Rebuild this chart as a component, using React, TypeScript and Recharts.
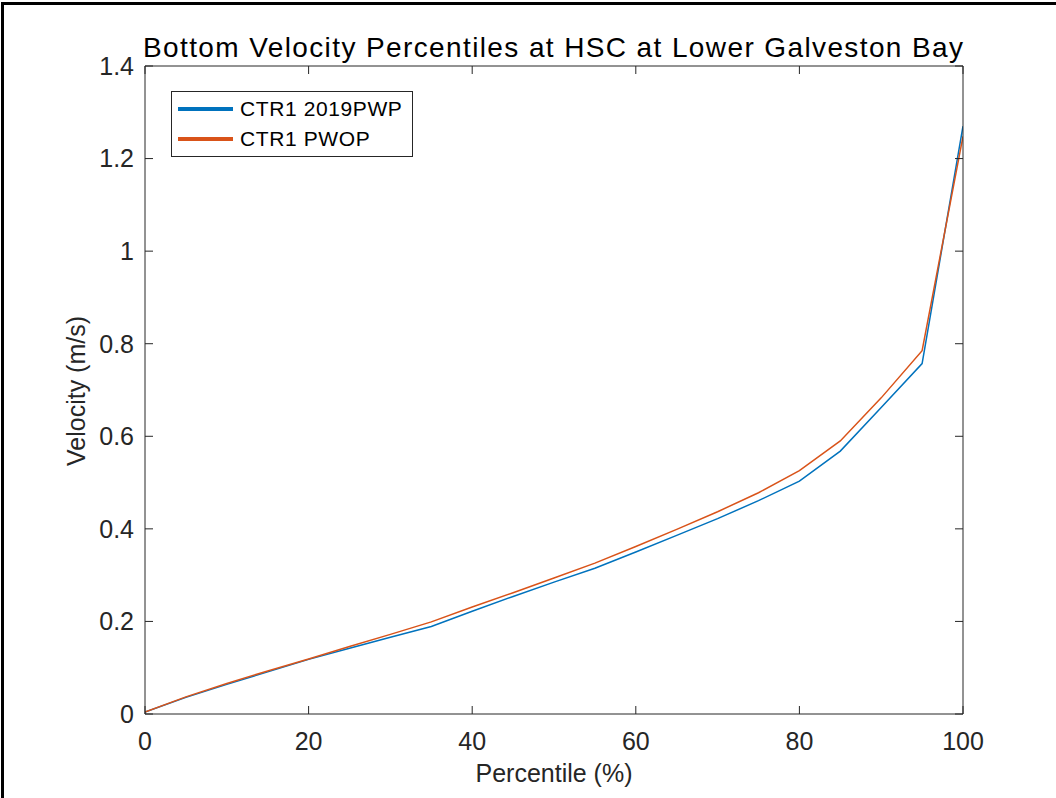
import React from 'react'
import { LineChart, Line, XAxis, YAxis, Legend } from 'recharts'

// percentile (%) on the x axis
const percentiles = [0, 5, 10, 15, 20, 25, 30, 35, 40, 45, 50, 55, 60, 65, 70, 75, 80, 85, 90, 95, 100]

// bottom velocity (m/s)
const ctr1_2019pwp = [
  0.004, 0.036, 0.064, 0.091, 0.118, 0.142, 0.166, 0.189, 0.222, 0.254, 0.285,
  0.315, 0.35, 0.386, 0.422, 0.461, 0.503, 0.568, 0.662, 0.757, 1.27,
]
const ctr1_pwop = [
  0.004, 0.037, 0.066, 0.093, 0.119, 0.146, 0.172, 0.199, 0.231, 0.262, 0.294,
  0.326, 0.362, 0.399, 0.437, 0.478, 0.526, 0.59, 0.683, 0.785, 1.248,
]

const xTicks = [0, 20, 40, 60, 80, 100]
const yTicks = [0, 0.2, 0.4, 0.6, 0.8, 1, 1.2, 1.4]
const seriesNames = ['CTR1 2019PWP', 'CTR1 PWOP']

const titleText = 'Bottom Velocity Percentiles at HSC at Lower Galveston Bay'
const xLabel = 'Percentile (%)'
const yLabel = 'Velocity (m/s)'

const data = percentiles.map((p, i) => ({ p, pwp: ctr1_2019pwp[i], pwop: ctr1_pwop[i] }))

const FONT = '"Liberation Sans", Arial, Helvetica, sans-serif'
const AXIS = '#262626'
const BLUE = '#0072BD'
const ORANGE = '#D95319'

const W = 1056
const H = 798

function LegendBox({ payload }: any) {
  return (
    <div
      style={{
        display: 'inline-block',
        border: `1px solid ${AXIS}`,
        background: '#fff',
        padding: '2px 10px 2px 6px',
        fontFamily: FONT,
      }}
    >
      {(payload || []).map((e: any) => (
        <div key={e.value} style={{ display: 'flex', alignItems: 'center', height: 30 }}>
          <span style={{ display: 'inline-block', width: 55, height: 4, background: e.color, marginRight: 7 }} />
          <span style={{ fontSize: 21, color: '#000', letterSpacing: 0.6, whiteSpace: 'nowrap' }}>{e.value}</span>
        </div>
      ))}
    </div>
  )
}

const noLabel = () => ''

export default function App() {
  return (
    <div style={{ position: 'absolute', left: 0, top: 0, width: W, height: H, background: '#fff', fontFamily: FONT }}>
      <LineChart width={W} height={H} data={data} margin={{ top: 66, right: 93, left: 85, bottom: 44 }}>
        {/* label axes */}
        <XAxis
          xAxisId="x"
          dataKey="p"
          type="number"
          domain={[0, 100]}
          allowDataOverflow
          ticks={xTicks}
          interval={0}
          height={40}
          axisLine={false}
          tickLine={false}
          tickSize={8}
          tickMargin={10}
          tick={{ fill: AXIS, fontSize: 25, fontFamily: FONT }}
        />
        <YAxis
          yAxisId="y"
          type="number"
          domain={[0, 1.4]}
          allowDataOverflow
          ticks={yTicks}
          interval={0}
          width={60}
          axisLine={false}
          tickLine={false}
          tickSize={8}
          tickMargin={3}
          tick={{ fill: AXIS, fontSize: 25, fontFamily: FONT }}
        />
        {/* box with inward ticks on all four sides */}
        <XAxis xAxisId="bm" dataKey="p" orientation="bottom" mirror height={1} type="number" domain={[0, 100]} allowDataOverflow
          ticks={xTicks} interval={0} tickSize={8} tickFormatter={noLabel} stroke={AXIS} />
        <XAxis xAxisId="tm" dataKey="p" orientation="top" mirror height={1} type="number" domain={[0, 100]} allowDataOverflow
          ticks={xTicks} interval={0} tickSize={8} tickFormatter={noLabel} stroke={AXIS} />
        <YAxis yAxisId="lm" orientation="left" mirror width={1} type="number" domain={[0, 1.4]} allowDataOverflow
          ticks={yTicks} interval={0} tickSize={8} tickFormatter={noLabel} stroke={AXIS} />
        <YAxis yAxisId="rm" orientation="right" mirror width={1} type="number" domain={[0, 1.4]} allowDataOverflow
          ticks={yTicks} interval={0} tickSize={8} tickFormatter={noLabel} stroke={AXIS} />

        <Legend
          content={<LegendBox />}
          layout="horizontal"
          verticalAlign="middle"
          align="center"
          wrapperStyle={{ left: 171, top: 91, width: 'auto', height: 'auto' }}
        />

        <Line xAxisId="x" yAxisId="y" type="linear" dataKey="pwp" name={seriesNames[0]} stroke={BLUE}
          strokeWidth={1.5} dot={false} activeDot={false} isAnimationActive={false} />
        <Line xAxisId="x" yAxisId="y" type="linear" dataKey="pwop" name={seriesNames[1]} stroke={ORANGE}
          strokeWidth={1.5} dot={false} activeDot={false} isAnimationActive={false} />
      </LineChart>

      <svg width={W} height={H} style={{ position: 'absolute', left: 0, top: 0, pointerEvents: 'none' }}>
        {/* frame of the screenshot */}
        <rect x={1} y={2} width={W - 1} height={3} fill="#000" />
        <rect x={1} y={2} width={3} height={H - 2} fill="#000" />
        <text x={553} y={57} textAnchor="middle" fontSize={28} fill="#000" fontFamily={FONT}
          textLength={820} lengthAdjust="spacing">
          {titleText}
        </text>
        <text x={554} y={782} textAnchor="middle" fontSize={25} fill={AXIS} fontFamily={FONT}>
          {xLabel}
        </text>
        <text transform="translate(85,391) rotate(-90)" textAnchor="middle" fontSize={25} fill={AXIS} fontFamily={FONT}>
          {yLabel}
        </text>
      </svg>
    </div>
  )
}
